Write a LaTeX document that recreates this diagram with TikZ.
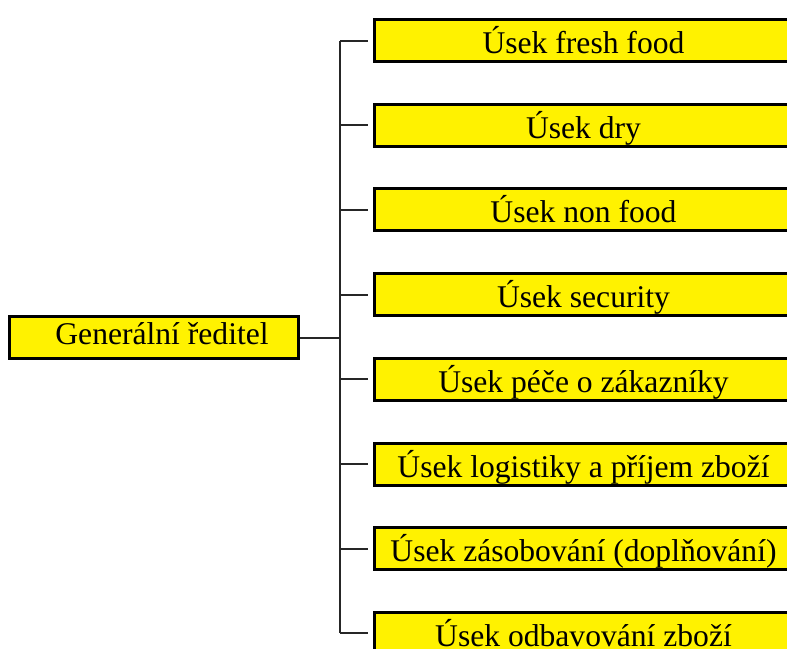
\documentclass[tikz,border=0pt]{standalone}
\usepackage{fontspec}
\setmainfont{Liberation Serif}
\tikzset{
  usek/.style={draw, line width=1.5pt, fill=yellow, inner sep=0pt,
    minimum width=209pt, minimum height=21pt, anchor=north west,
    text height=13pt, text depth=0pt,
    font=\fontsize{15.8}{18}\selectfont},
  boss/.style={usek, minimum width=144.5pt, text height=7pt},
  link/.style={line width=1pt, draw=black!85}
}
\begin{document}
\begin{tikzpicture}[x=0.5pt,y=-0.5pt]
    \clip (0,0) rectangle (787,648);
    \coordinate (spine) at (340,0);

    % Boxes
    \node[boss] (gen) at (8,315) {\hspace*{8pt}Generální ředitel};
    \node[usek] (u1) at (373,18) {Úsek fresh food};
    \node[usek] (u2) at (373,102.7) {Úsek dry};
    \node[usek] (u3) at (373,187.4) {Úsek non food};
    \node[usek] (u4) at (373,272.1) {Úsek security};
    \node[usek] (u5) at (373,356.8) {Úsek péče o zákazníky};
    \node[usek] (u6) at (373,441.5) {Úsek logistiky a příjem zboží};
    \node[usek] (u7) at (373,526.2) {Úsek zásobování (doplňování)};
    \node[usek] (u8) at (373,610.9) {Úsek odbavování zboží};

    % Lines
    \draw[link] (gen.east) -- (gen.east -| spine);
    \draw[link] (u1.west -| spine) -- (u8.west -| spine);
    \draw[link] (u1.west -| spine) -- ([xshift=-2.5pt]u1.west);
    \draw[link] (u2.west -| spine) -- ([xshift=-2.5pt]u2.west);
    \draw[link] (u3.west -| spine) -- ([xshift=-2.5pt]u3.west);
    \draw[link] (u4.west -| spine) -- ([xshift=-2.5pt]u4.west);
    \draw[link] (u5.west -| spine) -- ([xshift=-2.5pt]u5.west);
    \draw[link] (u6.west -| spine) -- ([xshift=-2.5pt]u6.west);
    \draw[link] (u7.west -| spine) -- ([xshift=-2.5pt]u7.west);
    \draw[link] (u8.west -| spine) -- ([xshift=-2.5pt]u8.west);
\end{tikzpicture}
\end{document}
